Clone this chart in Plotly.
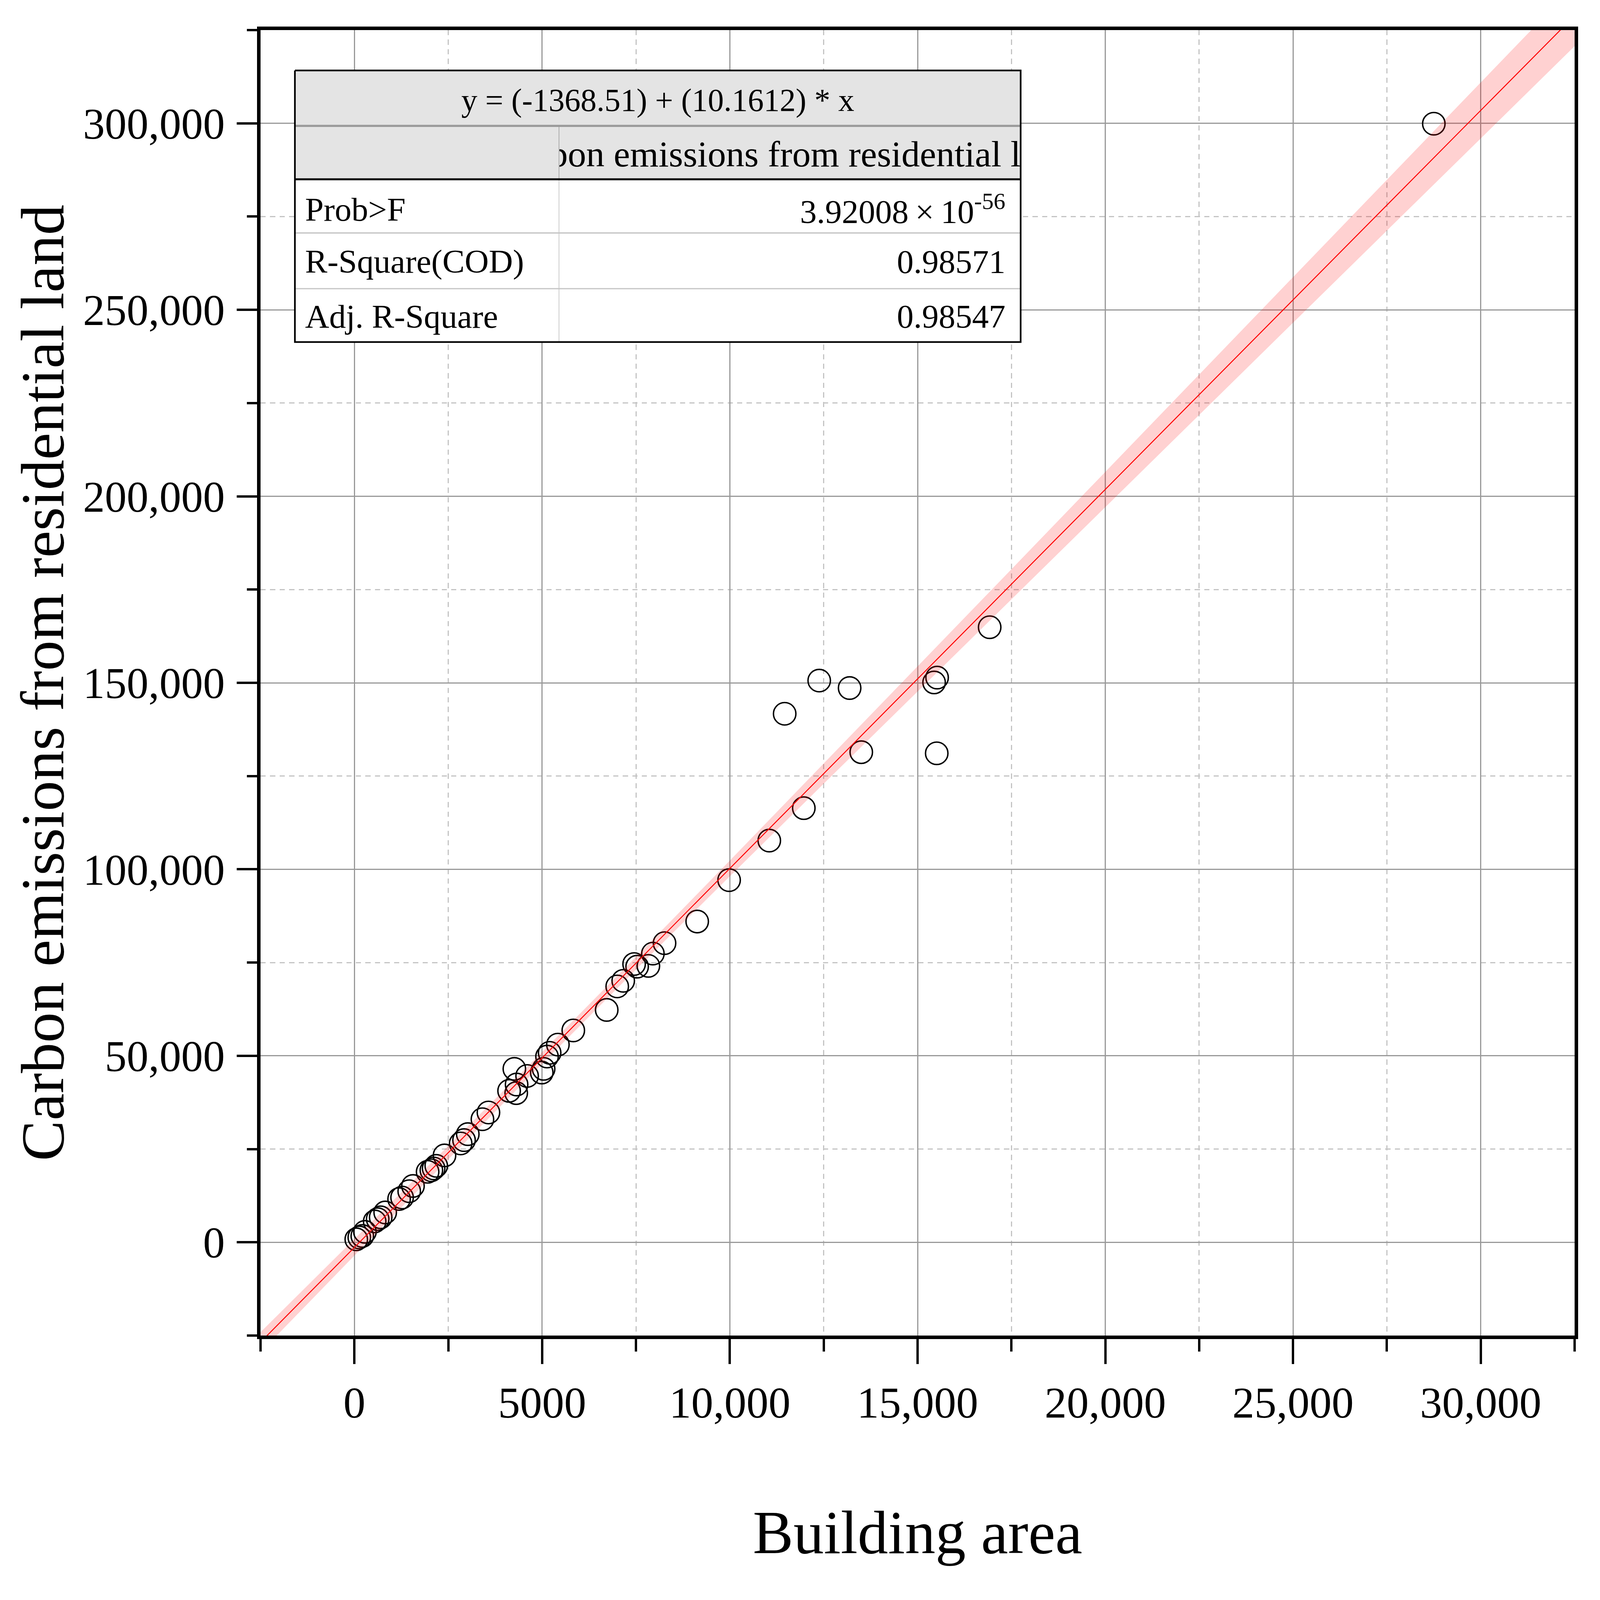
import plotly.graph_objects as go

# ---------------- data ----------------
building_area = [
    50, 130, 210, 280,
    540, 620, 700, 820,
    1190, 1270, 1460, 1560,
    1950, 2050, 2110, 2180, 2400,
    2830, 2920, 3020,
    3410, 3570,
    4120, 4310, 4320, 4260, 4600,
    4990, 5040, 5130, 5200, 5420, 5830,
    6720, 7000, 7160, 7450, 7530, 7830, 7950, 8260,
    9130, 9980, 11050, 11970, 11460, 12380, 13190, 13500,
    15440, 15520, 15510, 16920, 28750,
]
carbon_emissions = [
    800, 1300, 1700, 2800,
    5600, 6200, 6700, 8000,
    11600, 12000, 13700, 15100,
    18900, 19300, 19800, 20500, 23300,
    26500, 27400, 29000,
    33000, 34800,
    40600, 40000, 42300, 46500, 44600,
    45500, 46500, 49800, 50800, 53000, 56800,
    62300, 68600, 70100, 74600, 73900, 74100, 77400, 80200,
    86000, 97100, 107700, 116400, 141700, 150600, 148600, 131400,
    150100, 151400, 131100, 164900, 299900,
]

# linear fit shown in the table
fit_intercept = -1368.51
fit_slope = 10.1612

# 95% confidence band half-width (y units) read at these x positions
band_x = [-2500, 0, 2500, 5000, 7500, 10000, 12500, 15000, 17500,
          20000, 22500, 25000, 27500, 30000, 32500]
band_halfwidth = [2700, 2200, 1800, 1600, 1700, 2100, 2700, 3300, 4000,
                  4700, 5400, 6100, 6800, 7500, 8200]

x_tickvals = [0, 5000, 10000, 15000, 20000, 25000, 30000]
x_ticktext = ["0", "5000", "10,000", "15,000", "20,000", "25,000", "30,000"]
y_tickvals = [0, 50000, 100000, 150000, 200000, 250000, 300000]
y_ticktext = ["0", "50,000", "100,000", "150,000", "200,000", "250,000", "300,000"]

table_equation = "y = (-1368.51) + (10.1612) * x"
table_header = "Carbon emissions from residential land"
table_labels = ["Prob>F", "R-Square(COD)", "Adj. R-Square"]
table_values = ["3.92008\u2009\u00d7\u200910<sup>-56</sup>", "0.98571", "0.98547"]

x_title = "Building area"
y_title = "Carbon emissions from residential land"

# ---------------- layout geometry (pixels) ----------------
W, H = 6706, 5426
PL, PR, PT, PB = 1092, 6600, 102, 4529
FONT = "Liberation Serif"


def fx(px):
    return (px - PL) / (PR - PL)


def fy(py):
    return (PB - py) / (PB - PT)


fig = go.Figure()

# scatter points (hollow circles)
fig.add_trace(go.Scatter(
    x=building_area, y=carbon_emissions, mode="markers",
    marker=dict(symbol="circle-open", size=94, color="black",
                line=dict(width=6, color="black")),
    hoverinfo="skip", showlegend=False,
))

# confidence band
fit_at_band = [fit_intercept + fit_slope * xv for xv in band_x]
upper = [f + h for f, h in zip(fit_at_band, band_halfwidth)]
lower = [f - h for f, h in zip(fit_at_band, band_halfwidth)]
fig.add_trace(go.Scatter(
    x=band_x + band_x[::-1], y=upper + lower[::-1],
    mode="lines", fill="toself", fillcolor="rgba(255,0,0,0.18)",
    line=dict(width=0), hoverinfo="skip", showlegend=False,
))

# fitted line
line_x = [band_x[0], band_x[-1]]
fig.add_trace(go.Scatter(
    x=line_x, y=[fit_intercept + fit_slope * xv for xv in line_x],
    mode="lines", line=dict(color="#ff0000", width=4),
    hoverinfo="skip", showlegend=False,
))

# ---------------- table (own subplot, drawn above the main plot) ----------------
TL, TR = 1236, 4278
rows = [239, 427, 608, 790, 979, 1160]
COL = 2343
PAD = 12


def tbl_poly(xs, ys, fill=None, lw=0, lc="black"):
    fig.add_trace(go.Scatter(
        x=xs, y=ys, mode="lines",
        fill="toself" if fill else None, fillcolor=fill,
        line=dict(width=lw, color=lc),
        xaxis="x2", yaxis="y2", hoverinfo="skip", showlegend=False,
    ))


def tbl_rect(x0, y0, x1, y1, fill):
    tbl_poly([x0, x1, x1, x0, x0], [y0, y0, y1, y1, y0], fill=fill)


def tbl_line(x0, y0, x1, y1, lw, lc):
    tbl_poly([x0, x1], [y0, y1], lw=lw, lc=lc)


tbl_rect(TL, rows[0], TR, rows[2], "#e4e4e4")
tbl_rect(TL, rows[2], TR, rows[5], "#ffffff")
tbl_line(COL, rows[1], COL, rows[2], 3, "#a8a8a8")
tbl_line(COL, rows[2], COL, rows[5], 3, "#c8c8c8")
tbl_line(TL, rows[1], TR, rows[1], 9, "#9a9a9a")
tbl_line(TL, rows[3], TR, rows[3], 5, "#c4c4c4")
tbl_line(TL, rows[4], TR, rows[4], 5, "#c4c4c4")
tbl_line(TL, rows[2], TR, rows[2], 8, "#000000")
tbl_poly([TL, TR, TR, TL, TL], [rows[0], rows[0], rows[5], rows[5], rows[0]],
         lw=7, lc="#000000")

# clipped column header, in a small subplot covering just the header cell
fig.add_trace(go.Scatter(
    x=[0.49], y=[0.41], mode="text", text=[table_header],
    textposition="middle center", cliponaxis=True,
    textfont=dict(family=FONT, size=154, color="black"),
    xaxis="x3", yaxis="y3", hoverinfo="skip", showlegend=False,
))

annotations = []
TFS = 140
annotations.append(dict(xref="paper", yref="paper", x=fx((TL + TR) / 2), y=fy(340),
                        text=table_equation, showarrow=False,
                        xanchor="center", yanchor="middle",
                        font=dict(family=FONT, size=134, color="black")))
label_y = [710, 887, 1073]
for lab, val, yy in zip(table_labels, table_values, label_y):
    annotations.append(dict(xref="paper", yref="paper", x=fx(1276), y=fy(yy),
                            text=lab, showarrow=False, xanchor="left", yanchor="middle",
                            font=dict(family=FONT, size=TFS, color="black")))
    annotations.append(dict(xref="paper", yref="paper", x=fx(4218), y=fy(yy),
                            text=val, showarrow=False, xanchor="right", yanchor="middle",
                            font=dict(family=FONT, size=TFS, color="black")))

grid_major = "#999999"
grid_minor = "#c4c4c4"

fig.update_layout(
    width=W, height=H,
    margin=dict(l=PL, r=W - PR, t=PT, b=H - PB),
    paper_bgcolor="white", plot_bgcolor="rgba(0,0,0,0)",
    showlegend=False,
    annotations=annotations,
    xaxis=dict(
        range=[-2500, 32500], showline=True, linewidth=15, linecolor="black",
        mirror=True, ticks="outside", ticklen=85, tickwidth=10, tickcolor="black",
        tickmode="array", tickvals=x_tickvals, ticktext=x_ticktext,
        tickfont=dict(family=FONT, size=185, color="black"),
        ticklabelstandoff=-45,
        showgrid=True, gridcolor=grid_major, gridwidth=5, zeroline=False,
        minor=dict(dtick=2500, tick0=0, ticks="outside", ticklen=42, tickwidth=10,
                   tickcolor="black", showgrid=True, gridcolor=grid_minor,
                   gridwidth=5, griddash="22px,18px"),
        title=dict(text=x_title, font=dict(family=FONT, size=255, color="black"),
                   standoff=250),
        automargin=False,
    ),
    yaxis=dict(
        range=[-25000, 325000], showline=True, linewidth=15, linecolor="black",
        mirror=True, ticks="outside", ticklen=85, tickwidth=10, tickcolor="black",
        tickmode="array", tickvals=y_tickvals, ticktext=y_ticktext,
        tickfont=dict(family=FONT, size=183, color="black"),
        ticklabelstandoff=13,
        showgrid=True, gridcolor=grid_major, gridwidth=5, zeroline=False,
        minor=dict(dtick=25000, tick0=0, ticks="outside", ticklen=42, tickwidth=10,
                   tickcolor="black", showgrid=True, gridcolor=grid_minor,
                   gridwidth=5, griddash="22px,18px"),
        title=dict(text=y_title, font=dict(family=FONT, size=255, color="black"),
                   standoff=0),
        automargin=False,
    ),
    xaxis2=dict(domain=[fx(TL - PAD), fx(TR + PAD)], range=[TL - PAD, TR + PAD],
                visible=False, anchor="y2", fixedrange=True),
    yaxis2=dict(domain=[fy(rows[5] + PAD), fy(rows[0] - PAD)],
                range=[rows[5] + PAD, rows[0] - PAD],
                visible=False, anchor="x2", fixedrange=True),
    xaxis3=dict(domain=[fx(COL + 2), fx(TR - 3)], range=[0, 1], visible=False,
                anchor="y3", fixedrange=True),
    yaxis3=dict(domain=[fy(rows[2] - 4), fy(rows[1] + 5)], range=[0, 1], visible=False,
                anchor="x3", fixedrange=True),
)

# Offsets (px, at 6706x5426) from the axis line to the tick-label edge and to the title
X_LABEL_OFF, X_TITLE_OFF = 283, 738
Y_LABEL_OFF, Y_TITLE_OFF = 155, 820

# If the browser window is not 6706x5426, re-lay the figure out to fill the
# window: positions follow the window, glyph sizes and widths scale evenly.
fit_script = """
(function () {
  document.body.style.margin = '0';
  document.body.style.overflow = 'hidden';
  var gd = document.getElementById('{plot_id}');
  var W0 = %d, H0 = %d;
  var w = window.innerWidth, h = window.innerHeight;
  if (!w || !h || (Math.abs(w - W0) < 2 && Math.abs(h - H0) < 2)) { return; }
  var sx = w / W0, sy = h / H0, f = Math.min(sx, sy);
  var L = JSON.parse(JSON.stringify(gd.layout));
  var D = JSON.parse(JSON.stringify(gd.data));
  function sc(o, k) { if (o && typeof o[k] === 'number') { o[k] = o[k] * f; } }
  L.width = w; L.height = h;
  L.margin.l *= sx; L.margin.r *= sx; L.margin.t *= sy; L.margin.b *= sy;
  function fitAxis(ax, s, labOff, titOff) {
    var tl = ax.ticklen;
    ax.ticklen = tl * s;
    ['linewidth', 'tickwidth', 'gridwidth'].forEach(function (k) { sc(ax, k); });
    ax.ticklabelstandoff = Math.round(ax.ticklabelstandoff * f + (labOff - tl) * (s - f));
    sc(ax.tickfont, 'size');
    if (ax.title) {
      ax.title.standoff = Math.max(0, ax.title.standoff * f + (titOff - labOff) * (s - f));
      sc(ax.title.font, 'size');
    }
    if (ax.minor) {
      ax.minor.ticklen = ax.minor.ticklen * s;
      ['tickwidth', 'gridwidth'].forEach(function (k) { sc(ax.minor, k); });
      ax.minor.griddash = (22 * f).toFixed(1) + 'px,' + (18 * f).toFixed(1) + 'px';
    }
  }
  fitAxis(L.xaxis, sy, %d, %d);
  fitAxis(L.yaxis, sx, %d, %d);
  (L.annotations || []).forEach(function (an) { sc(an.font, 'size'); });
  D.forEach(function (t) {
    if (t.marker) { sc(t.marker, 'size'); if (t.marker.line) { sc(t.marker.line, 'width'); } }
    if (t.line) { sc(t.line, 'width'); }
    if (t.textfont) { sc(t.textfont, 'size'); }
  });
  Plotly.react(gd, D, L, {displayModeBar: false});
})();
""" % (W, H, X_LABEL_OFF, X_TITLE_OFF, Y_LABEL_OFF, Y_TITLE_OFF)

fig.write_html("out.html", post_script=fit_script,
               config={"displayModeBar": False})
